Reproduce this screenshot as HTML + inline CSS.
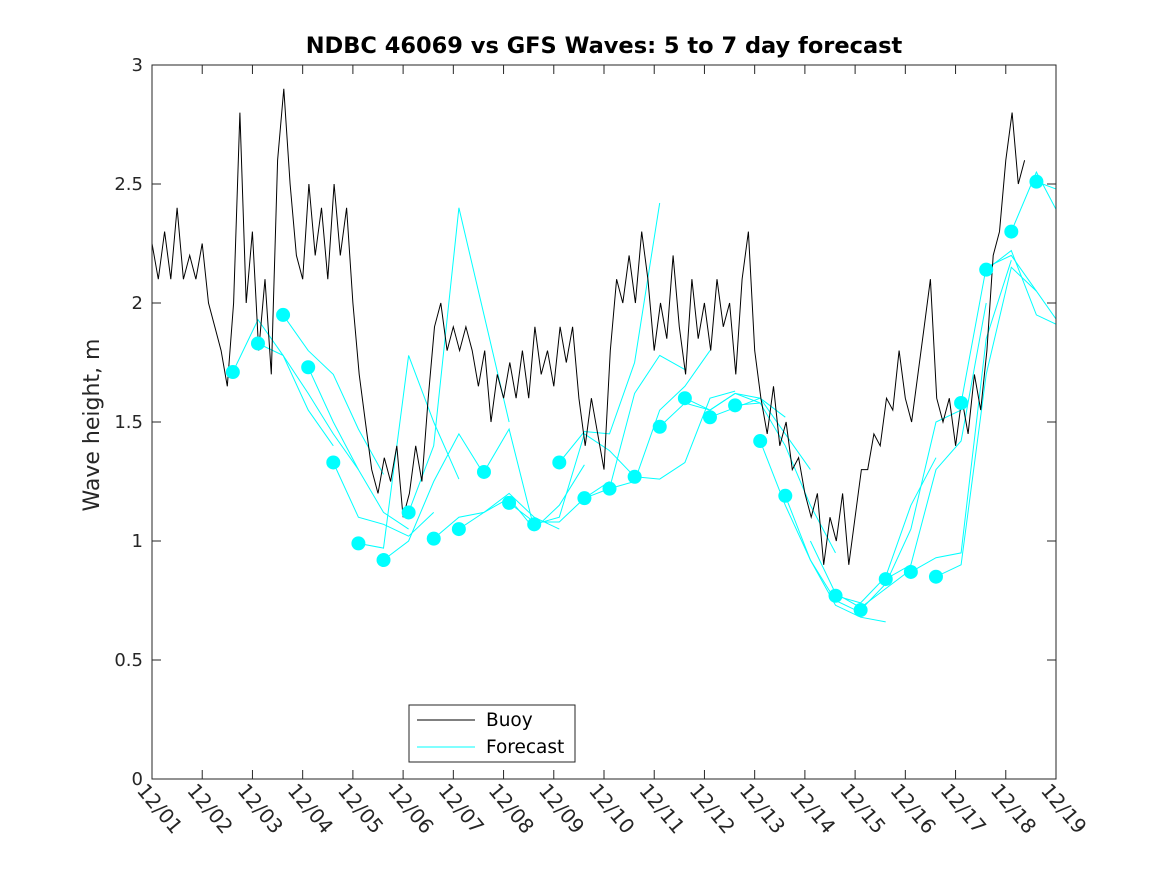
<!DOCTYPE html>
<html><head><meta charset="utf-8"><style>
body{margin:0;background:#fff}
svg{display:block;font-family:"DejaVu Sans","Liberation Sans",sans-serif}
</style></head><body>
<svg id="chart" width="1167" height="875" viewBox="0 0 1167 875" xmlns="http://www.w3.org/2000/svg">
<rect x="0" y="0" width="1167" height="875" fill="#fff"/>
<defs><clipPath id="plotclip"><rect x="152" y="65" width="904" height="714"/></clipPath></defs>
<text x="604" y="53" text-anchor="middle" font-size="22.5" font-weight="bold" fill="#000">NDBC 46069 vs GFS Waves: 5 to 7 day forecast</text>
<text transform="translate(99,425) rotate(-90)" text-anchor="middle" font-size="22" fill="#262626">Wave height, m</text>
<g id="plot" clip-path="url(#plotclip)"></g>
<g id="axes"></g>
<g>
<rect x="409" y="705" width="166" height="57" fill="#fff" stroke="#262626" stroke-width="1"/>
<line x1="417" y1="720" x2="475" y2="720" stroke="#000" stroke-width="1"/>
<text x="486" y="726" font-size="18.5" fill="#000">Buoy</text>
<line x1="417" y1="747" x2="475" y2="747" stroke="#00ffff" stroke-width="1"/>
<text x="486" y="753" font-size="18.5" fill="#000">Forecast</text>
</g>
</svg>
<script>
// ---- data ----
const xTickLabels = ["12/01","12/02","12/03","12/04","12/05","12/06","12/07","12/08","12/09","12/10","12/11","12/12","12/13","12/14","12/15","12/16","12/17","12/18","12/19"];
const yTicks = [0,0.5,1,1.5,2,2.5,3];
const yTickLabels = ["0","0.5","1","1.5","2","2.5","3"];
const buoyStepDays = 0.125;
const buoy = [2.25,2.1,2.3,2.1,2.4,2.1,2.2,2.1,2.25,
2.0,1.9,1.8,1.65,2.0,2.8,2.0,2.3,
1.8,2.1,1.7,2.6,2.9,2.5,2.2,2.1,
2.5,2.2,2.4,2.1,2.5,2.2,2.4,2.0,
1.7,1.5,1.3,1.2,1.35,1.25,1.4,1.1,
1.2,1.4,1.25,1.6,1.9,2.0,1.8,1.9,
1.8,1.9,1.8,1.65,1.8,1.5,1.7,1.6,
1.75,1.6,1.8,1.6,1.9,1.7,1.8,1.65,
1.9,1.75,1.9,1.6,1.4,1.6,1.45,1.3,
1.8,2.1,2.0,2.2,2.0,2.3,2.1,1.8,
2.0,1.85,2.2,1.9,1.7,2.1,1.85,2.0,
1.8,2.1,1.9,2.0,1.7,2.1,2.3,1.8,
1.6,1.45,1.65,1.4,1.5,1.3,1.35,1.2,
1.1,1.2,0.9,1.1,1.0,1.2,0.9,1.1,
1.3,1.3,1.45,1.4,1.6,1.55,1.8,1.6,
1.5,1.7,1.9,2.1,1.6,1.5,1.6,1.4,
1.6,1.45,1.7,1.55,1.8,2.2,2.3,2.6,
2.8,2.5,2.6];
const fcStart = 1.61;
const fcInterval = 0.5;
const fcStepDays = 0.5;
const fcMarkers = [1.71,1.83,1.95,1.73,1.33,0.99,0.92,1.12,1.01,1.05,1.29,1.16,1.07,1.33,1.18,1.22,1.27,1.48,1.60,1.52,1.57,1.42,1.19,null,0.77,0.71,0.84,0.87,0.85,1.58,2.14,2.30,2.51];
const fcSeg0 = [1.71,1.93,1.78,1.55,1.40];
const fcSeg1 = [1.83,1.78,1.62,1.45,1.30];
const fcSeg2 = [1.95,1.80,1.70,1.47,1.28];
const fcSeg3 = [1.73,1.50,1.30,1.12,1.05];
const fcSeg4 = [1.33,1.10,1.07,1.02,1.12];
const fcSeg5 = [0.99,0.97,1.78,1.50,1.26];
const fcSeg6 = [0.92,1.00,1.25,1.45,1.28];
const fcSeg7 = [1.12,1.40,2.40,1.95,1.50];
const fcSeg8 = [1.01,1.10,1.12,1.18,1.05];
const fcSeg9 = [1.05,1.12,1.20,1.10,1.05];
const fcSeg10 = [1.29,1.47,1.05,1.15,1.32];
const fcSeg11 = [1.16,1.08,1.08,1.18,1.25];
const fcSeg12 = [1.07,1.10,1.45,1.38,1.27];
const fcSeg13 = [1.33,1.46,1.45,1.75,2.42];
const fcSeg14 = [1.18,1.22,1.62,1.78,1.72];
const fcSeg15 = [1.22,1.25,1.55,1.65,1.80];
const fcSeg16 = [1.27,1.26,1.33,1.60,1.63];
const fcSeg17 = [1.48,1.58,1.55,1.62,1.58];
const fcSeg18 = [1.60,1.55,1.62,1.60,1.52];
const fcSeg19 = [1.52,1.56,1.60,1.45,1.30];
const fcSeg20 = [1.57,1.58,1.40,1.15,0.95];
const fcSeg21 = [1.42,1.15,0.92,0.75,0.70];
const fcSeg22 = [1.19,0.92,0.73,0.68,0.66];
const fcSeg23 = [1.00,0.78,0.72,0.80,0.88];
const fcSeg24 = [0.77,0.74,0.85,1.15,1.35];
const fcSeg25 = [0.71,0.82,1.05,1.50,1.55];
const fcSeg26 = [0.84,0.90,1.30,1.42,2.00];
const fcSeg27 = [0.87,0.93,0.95,1.85,2.18];
const fcSeg28 = [0.85,0.90,1.70,2.15,2.05];
const fcSeg29 = [1.58,2.15,2.20,2.05,1.90];
const fcSeg30 = [2.14,2.22,1.95,1.90,2.25];
const fcSeg31 = [2.30,2.55,2.35,2.30,2.30];
const fcSeg32 = [2.51,2.47,2.40,2.35,2.30];
const fcSegs = [fcSeg0,fcSeg1,fcSeg2,fcSeg3,fcSeg4,fcSeg5,fcSeg6,fcSeg7,fcSeg8,fcSeg9,fcSeg10,fcSeg11,fcSeg12,fcSeg13,fcSeg14,fcSeg15,fcSeg16,fcSeg17,fcSeg18,fcSeg19,fcSeg20,fcSeg21,fcSeg22,fcSeg23,fcSeg24,fcSeg25,fcSeg26,fcSeg27,fcSeg28,fcSeg29,fcSeg30,fcSeg31,fcSeg32];

// ---- axes ----
const X0=152,X1=1056,Y0=779,Y1=65;
const xDays=18, yMax=3;
function xs(d){return X0+(X1-X0)*d/xDays;}
function ys(v){return Y0-(Y0-Y1)*v/yMax;}
const NS="http://www.w3.org/2000/svg";
function mk(tag,attrs,parent){const e=document.createElementNS(NS,tag);for(const k in attrs)e.setAttribute(k,attrs[k]);parent.appendChild(e);return e;}
const plot=document.getElementById('plot'), axes=document.getElementById('axes');

fcSegs.forEach((seg,i)=>{
  const t0=fcStart+i*fcInterval;
  const pts=seg.map((v,j)=>xs(t0+j*fcStepDays).toFixed(1)+','+ys(v).toFixed(1)).join(' ');
  const pl=mk('polyline',{points:pts,fill:'none',stroke:'#00ffff','stroke-width':1},plot);
  
  
});
const bpts=buoy.map((v,k)=>xs(k*buoyStepDays).toFixed(1)+','+ys(v).toFixed(1)).join(' ');
const bl=mk('polyline',{points:bpts,fill:'none',stroke:'#000','stroke-width':1},plot);


fcMarkers.forEach((v,i)=>{
  if(v===null)return;
  const c=mk('circle',{cx:xs(fcStart+i*fcInterval),cy:ys(v),r:7,fill:'#00ffff'},plot);
  
  
});

const fr=mk('rect',{x:X0,y:Y1,width:X1-X0,height:Y0-Y1,fill:'none',stroke:'#262626','stroke-width':1},axes);


xTickLabels.forEach((lab,i)=>{
  const x=xs(i);
  mk('line',{x1:x,y1:Y0,x2:x,y2:Y0-9,stroke:'#262626','stroke-width':1},axes);
  mk('line',{x1:x,y1:Y1,x2:x,y2:Y1+9,stroke:'#262626','stroke-width':1},axes);
  const t=mk('text',{transform:`translate(${x-16},${791}) rotate(50)`,'font-size':20,fill:'#262626'},axes);
  t.textContent=lab;
  
  
});
yTicks.forEach((v,i)=>{
  const y=ys(v);
  mk('line',{x1:X0,y1:y,x2:X0+9,y2:y,stroke:'#262626','stroke-width':1},axes);
  mk('line',{x1:X1,y1:y,x2:X1-9,y2:y,stroke:'#262626','stroke-width':1},axes);
  const t=mk('text',{x:X0-9,y:y+6,'text-anchor':'end','font-size':18,fill:'#262626'},axes);
  t.textContent=yTickLabels[i];
  
  
});
</script>
</body></html>
